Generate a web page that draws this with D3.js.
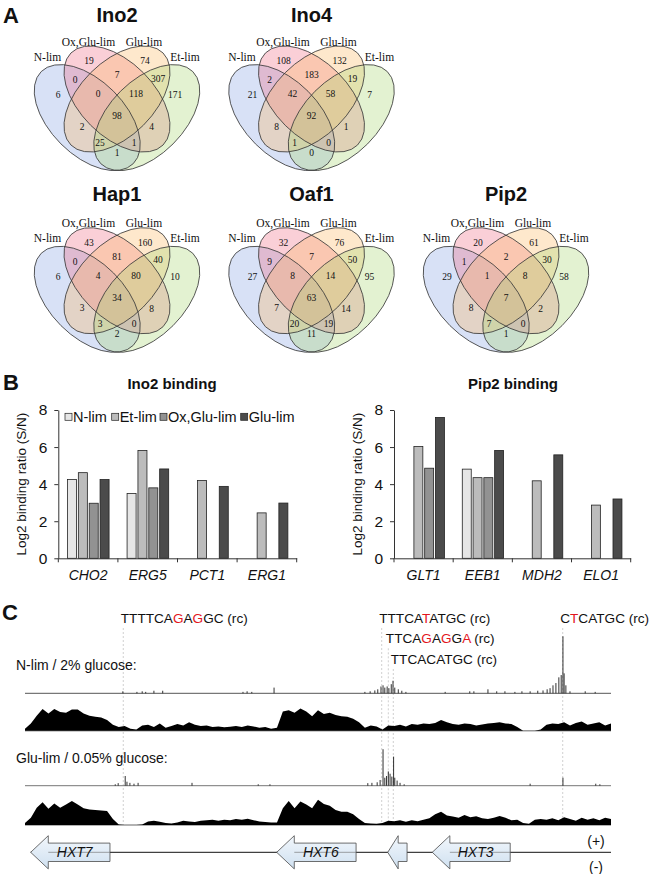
<!DOCTYPE html>
<html>
<head>
<meta charset="utf-8">
<script src="https://cdn.jsdelivr.net/npm/d3@7"></script>
<style>
body { margin: 0; background: #fff; }
text { font-family: "Liberation Sans", Arial, sans-serif; fill: #111; }
.serif { font-family: "Liberation Serif", "Times New Roman", serif; }
</style>
</head>
<body>
<div id="fig"></div>
<script>
// ---------- data: panel A (Venn counts) ----------
var vennSets = ["N-lim", "Ox,Glu-lim", "Glu-lim", "Et-lim"];
// A = N-lim, B = Ox,Glu-lim, C = Glu-lim, D = Et-lim
var regionKeys = ["A", "B", "C", "D", "AB", "BC", "CD", "ABC", "BCD", "ABCD", "AC", "BD", "ACD", "ABD", "AD"];
var vennNames = ["Ino2", "Ino4", "Hap1", "Oaf1", "Pip2"];
var ino2Counts = [6, 19, 74, 171, 0, 7, 307, 0, 118, 98, 2, 4, 25, 1, 1];
var ino4Counts = [21, 108, 132, 7, 2, 183, 19, 42, 58, 92, 8, 1, 1, 0, 0];
var hap1Counts = [6, 43, 160, 10, 0, 81, 40, 4, 80, 34, 3, 8, 3, 0, 2];
var oaf1Counts = [27, 32, 76, 95, 9, 7, 50, 8, 14, 63, 7, 14, 20, 19, 11];
var pip2Counts = [29, 20, 61, 58, 1, 2, 30, 1, 8, 7, 8, 2, 7, 0, 1];

// ---------- data: panel B (bars) ----------
var conditions = ["N-lim", "Et-lim", "Ox,Glu-lim", "Glu-lim"];
var ino2Genes = ["CHO2", "ERG5", "PCT1", "ERG1"];
var ino2NLim = [4.25, 3.5, null, null];
var ino2EtLim = [4.62, 5.82, 4.2, 2.45];
var ino2OxGlu = [2.97, 3.8, null, null];
var ino2GluLim = [4.25, 4.82, 3.88, 2.98];
var pip2Genes = ["GLT1", "EEB1", "MDH2", "ELO1"];
var pip2NLim = [null, 4.81, null, null];
var pip2EtLim = [6.03, 4.35, 4.18, 2.87];
var pip2OxGlu = [4.86, 4.35, null, null];
var pip2GluLim = [7.6, 5.82, 5.58, 3.2];
var yTicks = [0, 2, 4, 6, 8];

// ---------- data: panel C (HXT locus tracks, position in arbitrary units 0-100) ----------
var nlimCoverage = [8, 30, 62, 90, 72, 90, 78, 75, 88, 88,
  72, 62, 58, 55, 45, 25, 15, 20, 8, 5,
  22, 25, 15, 30, 12, 20, 28, 22, 35, 25,
  20, 22, 15, 18, 14, 16, 20, 15, 22, 18,
  12, 15, 8, 12, 80, 85, 75, 92, 80, 60,
  85, 70, 75, 65, 60, 58, 50, 35, 12, 22,
  18, 5, 22, 20, 25, 18, 28, 25, 30, 28,
  32, 45, 35, 28, 25, 30, 28, 22, 26, 30,
  32, 35, 30, 28, 15, 0, 0, 0, 5, 25,
  30, 28, 35, 22, 32, 38, 25, 30, 35, 22,
  30];
var gluCoverage = [8, 30, 72, 95, 68, 90, 72, 85, 100, 85,
  70, 65, 62, 60, 58, 25, 2, 0, 0, 0,
  2, 15, 18, 14, 8, 6, 10, 18, 15, 12,
  18, 20, 22, 18, 22, 20, 25, 22, 26, 20,
  15, 12, 10, 10, 70, 100, 70, 98, 85, 70,
  105, 88, 80, 62, 55, 55, 45, 25, 8, 6,
  5, 8, 18, 16, 20, 14, 20, 16, 22, 28,
  45, 55, 40, 35, 30, 42, 32, 36, 28, 25,
  30, 38, 30, 20, 22, 8, 5, 22, 25, 22,
  28, 20, 32, 25, 18, 30, 22, 28, 20, 30,
  25];
// [position, height]
var nlimPeaks = [[16.7, 3.5], [19.1, 2.5], [20.0, 3.5], [20.6, 2.5], [22.0, 4.5], [23.5, 4.5],
  [37.2, 2.5], [37.9, 3.5], [38.7, 2.5], [42.5, 10],
  [58.0, 2.5], [58.9, 3.5], [59.7, 5], [60.2, 7], [60.75, 12], [61.1, 14], [61.4, 10], [61.8, 12],
  [62.1, 9], [62.5, 16], [62.8, 22], [63.1, 10], [63.7, 7], [64.3, 4.5], [65.0, 2.5],
  [71.7, 2.5], [75.9, 3.5], [76.6, 3.5], [79.0, 7], [80.5, 3.5], [81.9, 3.5], [83.6, 2.5],
  [84.8, 3.5], [86.2, 3.5], [87.5, 4.5], [88.4, 5], [89.1, 7], [89.6, 9], [90.1, 14], [90.6, 18],
  [91.1, 28], [91.5, 32], [91.8, 100], [92.0, 35], [92.3, 14], [93.0, 3.5], [95.6, 3.5], [97.3, 2.5]];
var gluPeaks = [[15.4, 2.5], [15.9, 4.5], [17.1, 17], [17.4, 7], [17.9, 5], [18.6, 3.5], [19.3, 5],
  [28.5, 5], [39.8, 2.5], [41.8, 2.5],
  [58.5, 4.5], [59.2, 5], [60.1, 6], [60.6, 10], [61.1, 64], [61.4, 14], [61.7, 17], [62.0, 25],
  [62.3, 21], [62.6, 16], [62.9, 51], [63.1, 14], [63.5, 9], [64.0, 5], [64.7, 2.5],
  [86.2, 3.5], [91.8, 14], [97.4, 3.5], [98.1, 2.5]];
var geneNames = ["HXT7", "HXT6", "", "HXT3"];
var geneStarts = [0.97, 42.95, 61.9, 69.5];
var geneEnds = [14.5, 56.5, 65.2, 82.8];
var motifLabels = ["TTTTCAGAGGC", "TTTCATATGC", "TTCAGAGGA", "TTCACATGC", "CTCATGC"];
var motifRed = [[6, 8], [5], [4, 6, 8], [], [1]];
var motifPos = [16.77, 60.87, 62.0, 62.85, 91.76];
var motifRow = [0, 0, 1, 2, 0];

// ---------- figure ----------
var svg = d3.select("#fig").append("svg")
  .attr("width", 650)
  .attr("height", 874);

svg.append("rect").attr("width", 650).attr("height", 874).attr("fill", "#fff");

var letters = [["A", 3, 23], ["B", 3, 390], ["C", 2, 620]];
letters.forEach(function (l) {
  svg.append("text")
    .attr("x", l[1]).attr("y", l[2])
    .attr("font-size", "22px").attr("font-weight", "bold")
    .text(l[0]);
});

// ---------- panel A ----------
var vennCounts = [ino2Counts, ino4Counts, hap1Counts, oaf1Counts, pip2Counts];
var vennCentres = [[117, 100], [311.5, 100], [117, 281.7], [311.5, 281.7], [506, 281.7]];
var titleBase = [21.7, 21.7, 200.5, 200.5, 200.5];

// four-ellipse layout (same shape for every diagram)
var U = 186;
var ea = 0.35 * U, eb = 0.2 * U;
var ellipses = [
  { dx: -0.16 * U, dy: 0.1 * U - 1, rot: 45, fill: "#6f8fdc", op: 0.27 },
  { dx: 0, dy: -1, rot: 45, fill: "#f0607a", op: 0.3 },
  { dx: 0, dy: -1, rot: -45, fill: "#fdb860", op: 0.32 },
  { dx: 0.16 * U, dy: 0.1 * U - 1, rot: -45, fill: "#a8d870", op: 0.32 }
];
var setLabelPos = [[-69.5, -43.3], [-28.5, -58.3], [27, -58.3], [68, -43.3]];
// approximate label spots
var regionHint = {
  A: [-59, -5], B: [-28, -39], C: [28, -39], D: [58, -5],
  AB: [-42, -20], BC: [0, -25], CD: [40, -20],
  ABC: [-19, -6], BCD: [19, -6], ABCD: [0, 16],
  AC: [-33, 25], BD: [32, 25], ACD: [-13, 31], ABD: [13, 31], AD: [0, 49]
};

function ellTest(e, x, y) {
  var px = x - e.dx, py = y - e.dy;
  var t = e.rot * Math.PI / 180, c = Math.cos(t), s = Math.sin(t);
  var u = px * c + py * s, v = -px * s + py * c;
  var q = u * u / (ea * ea) + v * v / (eb * eb);
  var gr = 2 * Math.sqrt(u * u / Math.pow(ea, 4) + v * v / Math.pow(eb, 4)) + 1e-9;
  return { inside: q < 1, dist: Math.abs(q - 1) / gr };
}

// nudge each hint so the number sits well inside its own region
var regionPos = {};
regionKeys.forEach(function (k) {
  var h = regionHint[k], best = h, bestScore = -1e9;
  for (var x = h[0] - 12; x <= h[0] + 12; x += 0.5) {
    for (var yy = h[1] - 12; yy <= h[1] + 12; yy += 0.5) {
      var key = "", m = 1e9;
      ellipses.forEach(function (e, i) {
        var r = ellTest(e, x, yy);
        if (r.inside) key += "ABCD"[i];
        m = Math.min(m, r.dist);
      });
      if (key !== k) continue;
      var sc = Math.min(m, 6.5) - 0.12 * Math.hypot(x - h[0], yy - h[1]);
      if (sc > bestScore) { bestScore = sc; best = [x, yy]; }
    }
  }
  regionPos[k] = best;
});

vennNames.forEach(function (name, k) {
  var cx = vennCentres[k][0], cy = vennCentres[k][1];
  var g = svg.append("g");

  g.append("text")
    .attr("x", cx).attr("y", titleBase[k])
    .attr("text-anchor", "middle")
    .attr("font-size", "20px").attr("font-weight", "bold")
    .text(name);

  // fills first, outlines on top
  ellipses.forEach(function (e) {
    g.append("ellipse")
      .attr("cx", cx + e.dx).attr("cy", cy + e.dy)
      .attr("rx", ea).attr("ry", eb)
      .attr("transform", "rotate(" + e.rot + "," + (cx + e.dx) + "," + (cy + e.dy) + ")")
      .attr("fill", e.fill).attr("fill-opacity", e.op)
      .attr("stroke", "none");
  });
  ellipses.forEach(function (e) {
    g.append("ellipse")
      .attr("cx", cx + e.dx).attr("cy", cy + e.dy)
      .attr("rx", ea).attr("ry", eb)
      .attr("transform", "rotate(" + e.rot + "," + (cx + e.dx) + "," + (cy + e.dy) + ")")
      .attr("fill", "none")
      .attr("stroke", "#3a3a3a").attr("stroke-width", 0.8);
  });

  vennSets.forEach(function (s, i) {
    g.append("text").attr("class", "serif")
      .attr("x", cx + setLabelPos[i][0]).attr("y", cy + setLabelPos[i][1])
      .attr("text-anchor", "middle").attr("dominant-baseline", "central")
      .attr("font-size", "11.5px")
      .text(s);
  });

  g.selectAll(".cnt")
    .data(regionKeys)
    .enter()
    .append("text")
    .attr("class", "serif")
    .attr("x", d => cx + regionPos[d][0])
    .attr("y", d => cy + regionPos[d][1])
    .attr("text-anchor", "middle").attr("dominant-baseline", "central")
    .attr("font-size", "9.5px")
    .text((d, i) => vennCounts[k][i]);
});

// ---------- panel B ----------
var condColors = ["#e6e6e6", "#bcbcbc", "#929292", "#4b4b4b"];
var y = d3.scaleLinear().domain([0, 8]).range([558.3, 410]);

function barChart(genes, series, x0, x1, titleText, titleX, labelX, withLegend) {
  var g = svg.append("g");
  var x = d3.scaleBand().domain(genes).range([x0, x1]);
  var bw = x.bandwidth();
  var xIn = d3.scaleBand().domain(conditions)
    .range([bw * 0.154, bw * 0.852])
    .paddingInner(0.17);

  g.append("text")
    .attr("x", titleX).attr("y", 389)
    .attr("text-anchor", "middle")
    .attr("font-size", "15px").attr("font-weight", "bold")
    .text(titleText);

  series.forEach(function (vals, i) {
    g.selectAll(".b" + i)
      .data(vals.map((v, j) => ({ gene: genes[j], v: v })).filter(d => d.v !== null))
      .enter()
      .append("rect")
      .attr("x", d => x(d.gene) + xIn(conditions[i]))
      .attr("y", d => y(d.v))
      .attr("width", xIn.bandwidth())
      .attr("height", d => y(0) - y(d.v))
      .attr("fill", condColors[i])
      .attr("stroke", "#222").attr("stroke-width", 0.8);
  });

  var yAxis = g.append("g")
    .attr("transform", `translate(${x0}, 0)`)
    .call(d3.axisLeft(y).tickValues(yTicks).tickSize(4).tickPadding(7).tickSizeOuter(0));
  yAxis.selectAll("text").attr("font-size", "15.5px").attr("fill", "#111")
    .style("font-family", '"Liberation Sans", Arial, sans-serif');
  yAxis.selectAll("line,path").attr("stroke", "#333");

  var xAxis = g.append("g")
    .attr("transform", `translate(0, ${y(0)})`)
    .call(d3.axisBottom(x).tickSize(0).tickPadding(12).tickSizeOuter(0));
  xAxis.selectAll("text").attr("font-size", "14px").attr("font-style", "italic")
    .attr("fill", "#111")
    .style("font-family", '"Liberation Sans", Arial, sans-serif');
  xAxis.select("path").attr("stroke", "#333");

  var bounds = genes.map(d => x(d)).concat([x1]);
  g.selectAll(".bt")
    .data(bounds)
    .enter()
    .append("line")
    .attr("x1", d => d).attr("x2", d => d)
    .attr("y1", y(0)).attr("y2", y(0) + 4)
    .attr("stroke", "#333");

  g.append("text")
    .attr("transform", `translate(${labelX}, ${(y(0) + y(8)) / 2}) rotate(-90)`)
    .attr("text-anchor", "middle")
    .attr("font-size", "13.5px")
    .text("Log2 binding ratio (S/N)");

  if (withLegend) {
    var legX = [65, 111.7, 160, 240.7];
    conditions.forEach(function (c, i) {
      g.append("rect")
        .attr("x", legX[i]).attr("y", 413.3)
        .attr("width", 7).attr("height", 7)
        .attr("fill", condColors[i])
        .attr("stroke", "#222").attr("stroke-width", 0.7);
      g.append("text")
        .attr("x", legX[i] + 8).attr("y", 422)
        .attr("font-size", "14.5px")
        .text(c);
    });
  }
}

barChart(ino2Genes, [ino2NLim, ino2EtLim, ino2OxGlu, ino2GluLim], 58.3, 296.7, "Ino2 binding", 172, 26, true);
barChart(pip2Genes, [pip2NLim, pip2EtLim, pip2OxGlu, pip2GluLim], 394, 630.7, "Pip2 binding", 513, 362, false);

// ---------- panel C ----------
var xg = d3.scaleLinear().domain([0, 100]).range([25, 611]);
var hPeak = d3.scaleLinear().domain([0, 100]).range([0, 57]);
var hCov = d3.scaleLinear().domain([0, 100]).range([0, 24]);

var cg = svg.append("g");

// motif guide lines
var rowBase = [623, 643.3, 664];
motifPos.forEach(function (p, i) {
  cg.append("line")
    .attr("x1", xg(p)).attr("x2", xg(p))
    .attr("y1", rowBase[motifRow[i]] + 5).attr("y2", 825)
    .attr("stroke", "#c4c4c4").attr("stroke-width", 0.8)
    .attr("stroke-dasharray", "2,2");
});

motifLabels.forEach(function (m, i) {
  var t = cg.append("text")
    .attr("x", xg(motifPos[i]) - 2.5)
    .attr("y", rowBase[motifRow[i]])
    .attr("font-size", "13.6px");
  m.split("").forEach(function (ch, j) {
    t.append("tspan")
      .attr("fill", motifRed[i].indexOf(j) >= 0 ? "#e3161e" : "#111")
      .text(ch);
  });
  t.append("tspan").attr("fill", "#111").text(" (rc)");
});

cg.append("text").attr("x", 16).attr("y", 670).attr("font-size", "14px").text("N-lim / 2% glucose:");
cg.append("text").attr("x", 16).attr("y", 763.3).attr("font-size", "14px").text("Glu-lim / 0.05% glucose:");

function peakTrack(peaks, base, baseColor) {
  cg.append("line")
    .attr("x1", xg(0)).attr("x2", xg(100))
    .attr("y1", base).attr("y2", base)
    .attr("stroke", baseColor).attr("stroke-width", 1);
  cg.selectAll(null)
    .data(peaks)
    .enter()
    .append("line")
    .attr("x1", d => xg(d[0])).attr("x2", d => xg(d[0]))
    .attr("y1", base).attr("y2", d => base - hPeak(d[1]))
    .attr("stroke", "#1a1a1a").attr("stroke-width", 0.9);
}

function coverageTrack(values, base) {
  cg.append("line")
    .attr("x1", xg(0)).attr("x2", xg(100))
    .attr("y1", base).attr("y2", base)
    .attr("stroke", "#999").attr("stroke-width", 1.5);
  var area = d3.area()
    .x((d, i) => xg(i))
    .y0(base)
    .y1(d => base - hCov(d));
  cg.append("path")
    .datum(values)
    .attr("d", area)
    .attr("fill", "#000");
}

peakTrack(nlimPeaks, 693.3, "#555");
coverageTrack(nlimCoverage, 730.7);
peakTrack(gluPeaks, 785.7, "#777");
coverageTrack(gluCoverage, 825);

// gene track
var defs = svg.append("defs");
var grad = defs.append("linearGradient").attr("id", "geneFill")
  .attr("x1", 0).attr("y1", 0).attr("x2", 0).attr("y2", 1);
grad.append("stop").attr("offset", "0%").attr("stop-color", "#f2f7fc");
grad.append("stop").attr("offset", "100%").attr("stop-color", "#cfe0f0");

var geneY = 852.3;
cg.append("line")
  .attr("x1", xg(geneStarts[0])).attr("x2", xg(100))
  .attr("y1", geneY).attr("y2", geneY)
  .attr("stroke", "#111").attr("stroke-width", 1);

geneNames.forEach(function (name, i) {
  var tip = xg(geneStarts[i]), end = xg(geneEnds[i]);
  var head = Math.min(17.6, (end - tip) * 0.54);
  var pts = [[tip, geneY], [tip + head, geneY - 16.6], [tip + head, geneY - 9.2],
    [end, geneY - 9.2], [end, geneY + 9.2], [tip + head, geneY + 9.2], [tip + head, geneY + 16.6]];
  cg.append("path")
    .attr("d", d3.line()(pts) + "Z")
    .attr("fill", "url(#geneFill)")
    .attr("stroke", "#4a4a4a").attr("stroke-width", 0.8);
  if (name) {
    cg.append("line")
      .attr("x1", tip + head).attr("x2", end)
      .attr("y1", geneY).attr("y2", geneY)
      .attr("stroke", "#666").attr("stroke-width", 0.6);
    cg.append("text")
      .attr("x", (tip + head * 0.5 + end) / 2).attr("y", geneY + 4.6)
      .attr("text-anchor", "middle")
      .attr("font-size", "14px").attr("font-style", "italic")
      .text(name);
  }
});

cg.append("text").attr("x", 596).attr("y", 845.7).attr("text-anchor", "middle").attr("font-size", "14px").text("(+)");
cg.append("text").attr("x", 596).attr("y", 871.7).attr("text-anchor", "middle").attr("font-size", "14px").text("(-)");
</script>
</body>
</html>
